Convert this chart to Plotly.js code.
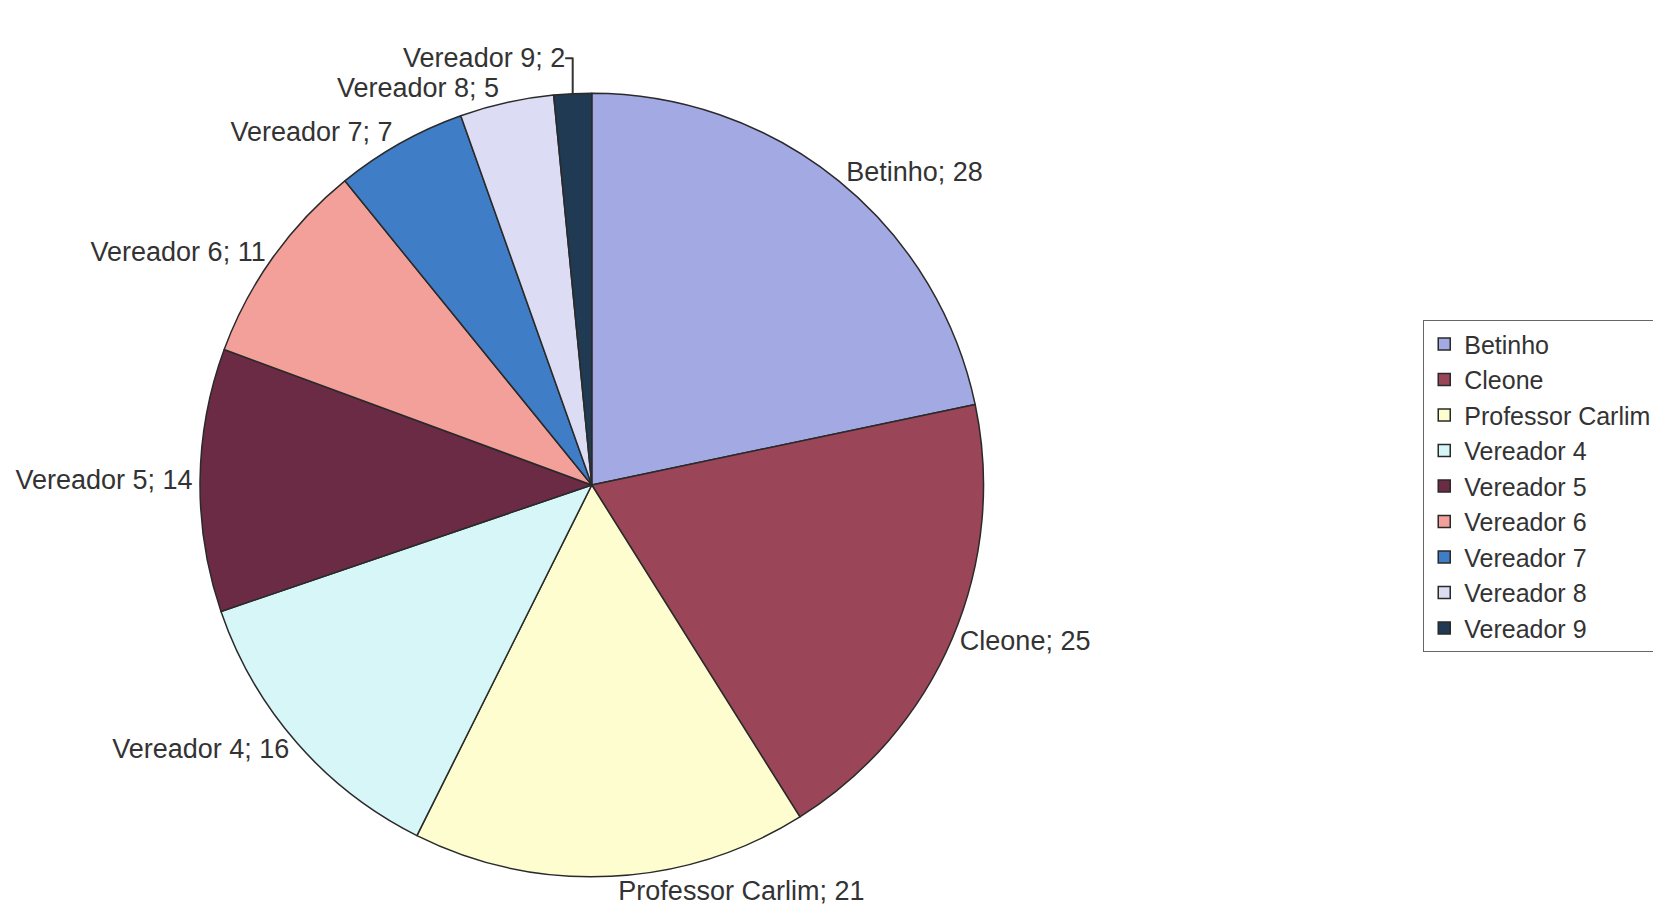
<!DOCTYPE html>
<html><head><meta charset="utf-8">
<script src="https://cdn.plot.ly/plotly-3.0.1.min.js"></script>
<style>html,body{margin:0;padding:0;background:#fff}#chart{width:1653px;height:923px}</style>
</head><body><div id="chart"></div>
<script>
const labels = ["Betinho","Cleone","Professor Carlim","Vereador 4","Vereador 5","Vereador 6","Vereador 7","Vereador 8","Vereador 9"];
const values = [28,25,21,16,14,11,7,5,2];
const colors = ["#a3a9e3","#9a4558","#fdfdd0","#d6f6f8","#6b2b45","#f4a09a","#3f7dc6","#dcdcf4","#1f3a52"];

const trace = {
  type: "pie",
  labels: labels,
  values: values,
  sort: false,
  direction: "clockwise",
  rotation: 0,
  marker: {colors: colors, line: {color: "#2a2a2a", width: 1.5}},
  textposition: "outside",
  texttemplate: "%{label}; %{value}",
  textfont: {family: "Liberation Sans, Arial, sans-serif", size: 27, color: "#333"},
  outsidetextfont: {family: "Liberation Sans, Arial, sans-serif", size: 27, color: "#333"},
  automargin: false,
  domain: {x: [0.121, 0.595], y: [0, 1]},
  hoverinfo: "label+value+percent"
};

const layout = {
  width: 1653, height: 923,
  margin: {l: 0, r: 0, t: 93, b: 46, autoexpand: false},
  paper_bgcolor: "#fff",
  showlegend: true,
  legend: {
    x: 0.861, y: 0.71, xanchor: "left", yanchor: "top",
    font: {family: "Liberation Sans, Arial, sans-serif", size: 25, color: "#333"},
    bordercolor: "#666", borderwidth: 1, bgcolor: "#fff",
    itemwidth: 30, tracegroupgap: 0
  }
};
Plotly.newPlot("chart", [trace], layout, {displayModeBar: false});
</script>
</body></html>
